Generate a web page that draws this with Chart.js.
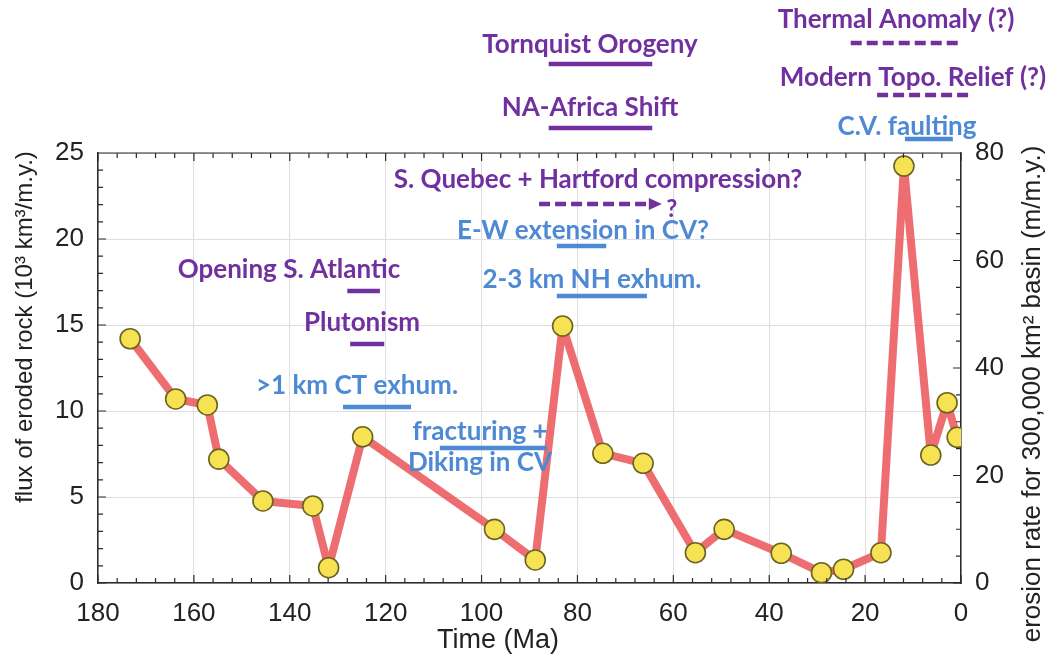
<!DOCTYPE html>
<html>
<head>
<meta charset="utf-8">
<script src="https://cdn.jsdelivr.net/npm/chart.js@4.4.1/dist/chart.umd.min.js"></script>
<style>
	html, body { margin: 0; padding: 0; background: #fff; }
	#wrap { width: 1061px; height: 667px; }
</style>
</head>
<body>
<div id="wrap"><canvas id="erosion-chart" width="1061" height="667"></canvas></div>
<script>
// Sample ages (Ma) and flux of eroded rock (10^3 km^3/m.y.)
const ageMa = [ 173.3, 163.8, 157.2, 154.8, 145.6, 135.2, 131.9, 124.8, 97.3, 88.8, 83.1, 74.7,
	66.3, 55.4, 49.4, 37.5, 29.1, 24.5, 16.7, 11.9, 6.3, 2.9, 0.8 ];
const flux = [ 14.2, 10.7, 10.35, 7.2, 4.77, 4.48, 0.89, 8.5, 3.12, 1.34, 14.94, 7.54,
	6.96, 1.76, 3.12, 1.73, 0.6, 0.8, 1.76, 24.24, 7.44, 10.48, 8.47 ];

// Tick labels
const timeTicks = [ 180, 160, 140, 120, 100, 80, 60, 40, 20, 0 ];
const fluxTicks = [ 0, 5, 10, 15, 20, 25 ];
const rateTicks = [ 0, 20, 40, 60, 80 ];

// Geologic events: time spans in Ma
const eventNames = [
	'Tornquist Orogeny',
	'NA-Africa Shift',
	'Thermal Anomaly (?)',
	'Modern Topo. Relief (?)',
	'C.V. faulting',
	'S. Quebec + Hartford compression?',
	'E-W extension in CV?',
	'2-3 km NH exhum.',
	'Opening S. Atlantic',
	'Plutonism',
	'>1 km CT exhum.',
	'fracturing +|Diking in CV',
];
const eventStart = [ 86, 86, 23, 17.5, 11.7, 88, 84.3, 84.3, 128, 127.4, 128.9, 108.7 ];
const eventEnd = [ 64.4, 64.4, 0, -1.5, 1.7, 62.4, 74, 65.5, 121.2, 120.3, 114.7, 86.3 ];
const eventKind = [ 'regional', 'regional', 'regional', 'regional', 'local', 'regional',
	'local', 'local', 'regional', 'regional', 'local', 'local' ];
const eventStyle = [ 'solid', 'solid', 'dashed', 'dashed', 'solid', 'arrow',
	'solid', 'solid', 'solid', 'solid', 'solid', 'solid' ];

// Where each label and bar sits on the page (text centre x, text rows y, bar y)
const eventLayout = [
	{ tx: 590, ty: [ 45 ], by: 64 },
	{ tx: 590, ty: [ 108 ], by: 128 },
	{ tx: 896, ty: [ 20 ], by: 43 },
	{ tx: 913, ty: [ 78 ], by: 95 },
	{ tx: 907, ty: [ 127 ], by: 139 },
	{ tx: 598, ty: [ 180 ], by: 204 },
	{ tx: 583, ty: [ 231 ], by: 246 },
	{ tx: 592, ty: [ 280 ], by: 296 },
	{ tx: 289, ty: [ 270 ], by: 291 },
	{ tx: 362, ty: [ 323 ], by: 344 },
	{ tx: 357, ty: [ 386 ], by: 407 },
	{ tx: 480, ty: [ 432, 463 ], by: 448 },
];

const colors = { regional: '#7030a0', local: '#4d89d4' };
const axisFont = '"Liberation Sans", Arial, sans-serif';
const noteFont = 'bold 26px Lato, "Open Sans", sans-serif';

const frameTicks = {
	id: 'frameTicks',
	afterDatasetsDraw( chart ) {
		const { ctx, chartArea: a, scales } = chart;
		ctx.save();
		ctx.strokeStyle = '#2a2a2a';
		ctx.lineWidth = 1.2;
		ctx.beginPath();
		// top edge of the frame
		ctx.moveTo( a.left, a.top );
		ctx.lineTo( a.right, a.top );
		// time ticks, bottom and top
		for ( let t = 0; t <= 180; t += 4 ) {
			const px = scales.x.getPixelForValue( t );
			const len = t % 20 === 0 ? 8 : 5;
			ctx.moveTo( px, a.bottom );
			ctx.lineTo( px, a.bottom - len );
			ctx.moveTo( px, a.top );
			ctx.lineTo( px, a.top + len );
		}
		// flux ticks, left
		for ( let v = 0; v <= 25; v += 1 ) {
			const py = scales.y.getPixelForValue( v );
			const len = v % 5 === 0 ? 8 : 5;
			ctx.moveTo( a.left, py );
			ctx.lineTo( a.left + len, py );
		}
		// erosion-rate ticks, right
		for ( let v = 0; v <= 80; v += 5 ) {
			const py = scales.y2.getPixelForValue( v );
			const len = v % 20 === 0 ? 8 : 5;
			ctx.moveTo( a.right, py );
			ctx.lineTo( a.right - len, py );
		}
		ctx.stroke();

		// axis titles
		ctx.fillStyle = '#222';
		ctx.font = '27px ' + axisFont;
		ctx.textAlign = 'center';
		ctx.textBaseline = 'middle';
		ctx.fillText( 'Time (Ma)', 498, 641 );
		ctx.save();
		ctx.translate( 25, 327 );
		ctx.rotate( -Math.PI / 2 );
		ctx.font = '24px ' + axisFont;
		ctx.fillText( 'flux of eroded rock (10\u00b3 km\u00b3/m.y.)', 0, 0 );
		ctx.restore();
		ctx.save();
		ctx.translate( 1033, 394 );
		ctx.rotate( -Math.PI / 2 );
		ctx.font = '26px ' + axisFont;
		ctx.fillText( 'erosion rate for 300,000 km\u00b2 basin (m/m.y.)', 0, 0 );
		ctx.restore();
		ctx.restore();
	},
};

const eventNotes = {
	id: 'eventNotes',
	afterDatasetsDraw( chart ) {
		const { ctx, scales } = chart;
		ctx.save();
		eventNames.forEach( ( name, i ) => {
			const color = colors[ eventKind[ i ] ];
			const lay = eventLayout[ i ];
			const x0 = scales.x.getPixelForValue( eventStart[ i ] );
			const x1 = scales.x.getPixelForValue( eventEnd[ i ] );

			ctx.fillStyle = color;
			ctx.font = noteFont;
			ctx.textAlign = 'center';
			ctx.textBaseline = 'middle';
			name.split( '|' ).forEach( ( line, k ) => {
				ctx.fillText( line, lay.tx, lay.ty[ k ] );
			} );

			ctx.strokeStyle = color;
			ctx.lineWidth = 4.5;
			ctx.lineCap = 'butt';
			if ( eventStyle[ i ] === 'solid' ) {
				ctx.setLineDash( [] );
				ctx.beginPath();
				ctx.moveTo( x0, lay.by );
				ctx.lineTo( x1, lay.by );
				ctx.stroke();
			} else if ( eventStyle[ i ] === 'dashed' ) {
				ctx.setLineDash( [ 11, 5 ] );
				ctx.beginPath();
				ctx.moveTo( x0, lay.by );
				ctx.lineTo( x1, lay.by );
				ctx.stroke();
			} else {
				const head = 13;
				ctx.setLineDash( [ 11, 5 ] );
				ctx.beginPath();
				ctx.moveTo( x0, lay.by );
				ctx.lineTo( x1 - head, lay.by );
				ctx.stroke();
				ctx.setLineDash( [] );
				ctx.beginPath();
				ctx.moveTo( x1, lay.by );
				ctx.lineTo( x1 - head, lay.by - 6 );
				ctx.lineTo( x1 - head, lay.by + 6 );
				ctx.closePath();
				ctx.fill();
				ctx.font = 'bold 24px Lato, sans-serif';
				ctx.fillText( '?', x1 + 10, lay.by + 5 );
			}
		} );
		ctx.setLineDash( [] );
		ctx.restore();
	},
};

const chart = new Chart( document.getElementById( 'erosion-chart' ), {
	type: 'line',
	data: {
		datasets: [
			{
				label: 'flux',
				data: ageMa.map( ( t, i ) => ( { x: t, y: flux[ i ] } ) ),
				borderColor: 'rgba(234, 84, 88, 0.85)',
				borderWidth: 8,
				borderJoinStyle: 'round',
				pointRadius: 10,
				pointBackgroundColor: '#f7e253',
				pointBorderColor: '#6b6421',
				pointBorderWidth: 1.6,
				tension: 0,
				yAxisID: 'y',
			},
		],
	},
	options: {
		responsive: false,
		animation: false,
		devicePixelRatio: 1,
		layout: { padding: { top: 153, left: 0, right: 0, bottom: 0 } },
		plugins: {
			legend: { display: false },
			tooltip: { enabled: false },
		},
		scales: {
			x: {
				type: 'linear',
				min: 0,
				max: 180,
				reverse: true,
				afterBuildTicks: ( s ) => { s.ticks = timeTicks.map( ( v ) => ( { value: v } ) ); },
				afterFit: ( s ) => { s.height = 84; },
				grid: { color: '#dedede', drawTicks: false },
				border: { color: '#2a2a2a', width: 1.5 },
				ticks: { font: { family: axisFont, size: 26 }, color: '#222', padding: 15, maxRotation: 0 },
			},
			y: {
				position: 'left',
				min: 0,
				max: 25,
				afterBuildTicks: ( s ) => { s.ticks = fluxTicks.map( ( v ) => ( { value: v } ) ); },
				afterFit: ( s ) => { s.width = 98; },
				grid: { color: '#dedede', drawTicks: false },
				border: { color: '#2a2a2a', width: 1.5 },
				ticks: { font: { family: axisFont, size: 26 }, color: '#222', padding: 14 },
			},
			y2: {
				position: 'right',
				min: 0,
				max: 80,
				afterBuildTicks: ( s ) => { s.ticks = rateTicks.map( ( v ) => ( { value: v } ) ); },
				afterFit: ( s ) => { s.width = 100; },
				grid: { display: false, drawTicks: false },
				border: { color: '#2a2a2a', width: 1.5 },
				ticks: { font: { family: axisFont, size: 26 }, color: '#222', padding: 14 },
			},
		},
	},
	plugins: [ frameTicks, eventNotes ],
} );
</script>
</body>
</html>
